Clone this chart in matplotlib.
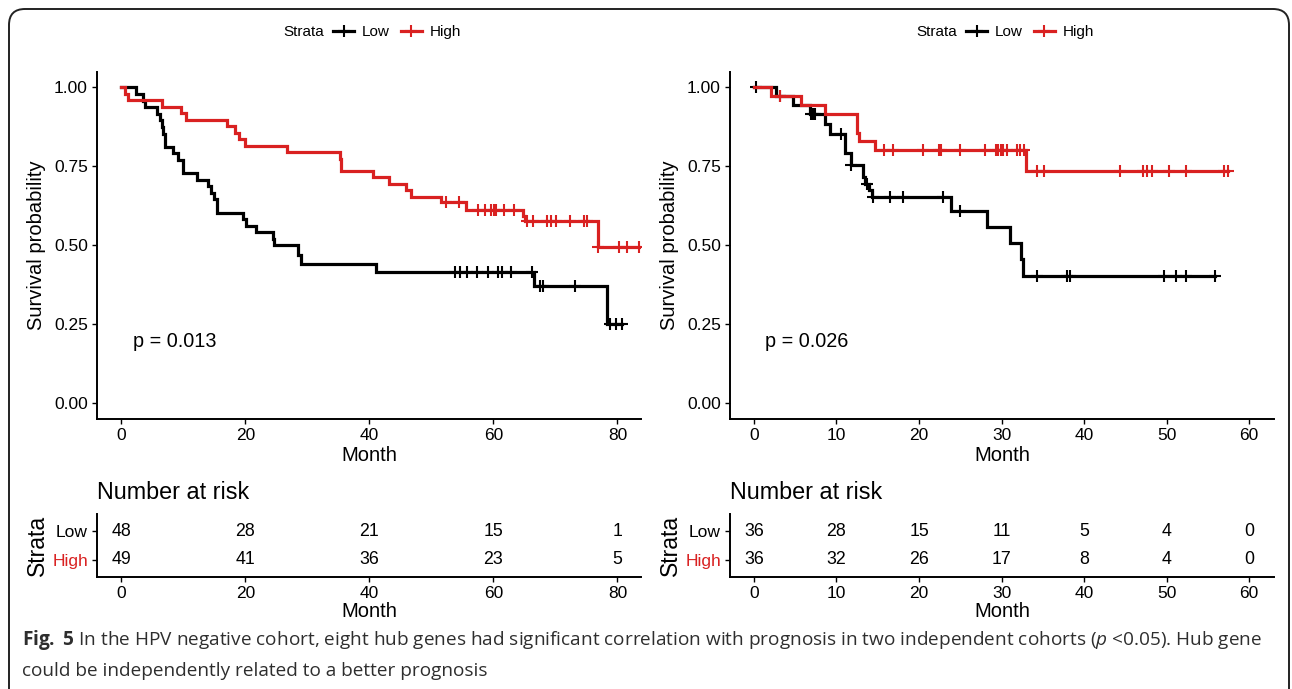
import numpy as np
import matplotlib.pyplot as plt
from matplotlib.lines import Line2D
from matplotlib.patches import FancyBboxPatch

plt.rcParams['font.family'] = ['Liberation Sans', 'DejaVu Sans']
plt.rcParams['mathtext.fontset'] = 'custom'
plt.rcParams['mathtext.rm'] = 'Open Sans'
plt.rcParams['mathtext.bf'] = 'Open Sans:bold'
plt.rcParams['mathtext.it'] = 'Open Sans:italic'

RED = '#D92121'

# ---- cohort 1 (left) ----
low1_t = [0, 2.4, 3.5, 3.8, 5.7, 6.2, 6.5, 6.8, 7.0, 8.3, 9.1, 9.9, 12.3, 14.0, 14.4,
          14.9, 15.4, 19.7, 20.2, 21.7, 24.4, 24.7, 28.5, 29.0, 41.1, 66.5, 78.3]
low1_s = [1.0, 0.979, 0.958, 0.9375, 0.917, 0.896, 0.875, 0.854, 0.8125, 0.792, 0.771,
          0.729, 0.708, 0.688, 0.667, 0.646, 0.604, 0.583, 0.562, 0.541, 0.52, 0.50,
          0.47, 0.44, 0.416, 0.37, 0.25]
low1_cens = [53.8, 54.6, 55.8, 57.3, 59.2, 60.8, 61.4, 62.8, 66.3, 67.5, 68.0, 73.2,
             78.8, 79.8, 80.7]

high1_t = [0, 0.6, 1.1, 6.5, 9.7, 10.5, 17.0, 18.3, 19.0, 20.0, 26.7, 35.2, 35.4, 40.6,
           43.2, 45.9, 46.8, 51.6, 55.6, 64.8, 65.1, 76.8]
high1_s = [1.0, 0.98, 0.959, 0.939, 0.918, 0.898, 0.878, 0.857, 0.837, 0.816, 0.796,
           0.775, 0.735, 0.716, 0.695, 0.676, 0.654, 0.636, 0.612, 0.594, 0.578, 0.495]
high1_cens = [52.4, 54.4, 57.6, 58.7, 59.6, 60.1, 60.5, 61.7, 63.3, 65.4, 66.4, 68.6,
              69.3, 70.1, 72.3, 74.6, 75.1, 76.9, 80.2, 81.5, 83.4]

risk1_times = [0, 20, 40, 60, 80]
risk1_low = [48, 28, 21, 15, 1]
risk1_high = [49, 41, 36, 23, 5]
pval1 = 'p = 0.013'

# ---- cohort 2 (right) ----
low2_t = [0, 2.7, 4.7, 6.8, 8.6, 9.2, 11.0, 11.7, 13.2, 13.4, 13.9, 14.3, 23.9, 28.2,
          31.0, 32.4, 32.6]
low2_s = [1.0, 0.972, 0.944, 0.915, 0.884, 0.854, 0.794, 0.755, 0.717, 0.694, 0.676,
          0.654, 0.608, 0.559, 0.506, 0.456, 0.403]
low2_cens = [0.3, 3.2, 6.9, 7.2, 7.4, 10.6, 11.8, 13.7, 14.4, 16.5, 18.1, 22.9, 25.0,
             34.3, 37.9, 38.3, 49.7, 51.1, 52.4, 55.8]

high2_t = [0, 2.1, 5.7, 8.6, 12.5, 12.7, 14.7, 32.9]
high2_s = [1.0, 0.973, 0.944, 0.915, 0.857, 0.829, 0.802, 0.736]
high2_cens = [3.2, 15.7, 16.9, 20.5, 22.4, 22.7, 25.0, 28.0, 29.3, 29.6, 29.9, 30.2,
              30.7, 31.9, 32.2, 32.7, 34.3, 35.1, 44.4, 47.1, 47.6, 48.2, 50.3, 52.3,
              57.0, 57.4]

risk2_times = [0, 10, 20, 30, 40, 50, 60]
risk2_low = [36, 28, 15, 11, 5, 4, 0]
risk2_high = [36, 32, 26, 17, 8, 4, 0]
pval2 = 'p = 0.026'

W, H = 1292, 689
fig = plt.figure(figsize=(W / 100, H / 100), dpi=100)

# rounded frame around the figure panel
frame = FancyBboxPatch((0.09, -0.5), 12.80, 7.30, boxstyle='round,pad=0,rounding_size=0.16',
                       transform=fig.dpi_scale_trans, fill=False, lw=1.4, ec='#222222')
fig.patches.append(frame)


def px_axes(x0, x1, ytop, ybot):
    return fig.add_axes([x0 / W, 1 - ybot / H, (x1 - x0) / W, (ybot - ytop) / H])


def style(ax):
    for s in ['top', 'right']:
        ax.spines[s].set_visible(False)
    for s in ['left', 'bottom']:
        ax.spines[s].set_linewidth(1.4)
    ax.tick_params(direction='out', length=3.5, width=1.0, labelsize=12.5, pad=3)


def km_curve(ax, t, s, cens, color):
    t = np.asarray(t)
    s = np.asarray(s)
    cens = np.asarray(cens)
    end = max(t[-1], cens.max())
    xs = np.append(t, end)
    ys = np.append(s, s[-1])
    ax.step(xs, ys, where='post', color=color, lw=2.3, solid_joinstyle='miter')
    cy = s[np.searchsorted(t, cens, side='right') - 1]
    ax.plot(cens, cy, ls='none', marker='+', ms=8, mew=1.5, color=color)


def km_panel(x0, x1, xlim, xticks, low, high, pval, pval_x):
    ax = px_axes(x0, x1, 71.7, 419)
    style(ax)
    km_curve(ax, *low, 'black')
    km_curve(ax, *high, RED)
    ax.set_xlim(*xlim)
    ax.set_ylim(-0.05, 1.05)
    ax.set_xticks(xticks)
    ax.set_yticks([0, 0.25, 0.5, 0.75, 1.0])
    ax.set_yticklabels(['0.00', '0.25', '0.50', '0.75', '1.00'])
    ax.set_xlabel('Month', fontsize=14.5)
    ax.set_ylabel('Survival probability', fontsize=14.5)
    ax.xaxis.set_label_coords(0.5, -0.104)
    ax.xaxis.label.set_va('center')
    ax.yaxis.set_label_coords(-0.112, 0.5)
    ax.yaxis.label.set_va('center')
    ax.text(pval_x, 0.197, pval, fontsize=14.3, ha='left', va='center')

    # legend strip above the panel
    ax.text(0.418, 1.114, 'Strata', transform=ax.transAxes, ha='right', va='center',
            fontsize=11)
    handles = [Line2D([], [], color='black', lw=2.3, marker='+', ms=8, mew=1.5),
               Line2D([], [], color=RED, lw=2.3, marker='+', ms=8, mew=1.5)]
    ax.legend(handles, ['Low', 'High'], loc='center left', bbox_to_anchor=(0.434, 1.114),
              ncol=2, frameon=False, fontsize=11, handlelength=1.4, handletextpad=0.5,
              columnspacing=0.7, borderpad=0, borderaxespad=0)
    return ax


def risk_panel(x0, x1, xlim, times, n_low, n_high):
    ax = px_axes(x0, x1, 513.6, 577.4)
    style(ax)
    ax.set_xlim(*xlim)
    ax.set_ylim(0.4, 2.6)
    ax.set_xticks(times)
    ax.set_yticks([1, 2])
    ax.set_yticklabels(['High', 'Low'])
    ax.get_yticklabels()[0].set_color(RED)
    for t, a, b in zip(times, n_low, n_high):
        ax.text(t, 2, str(a), ha='center', va='center', fontsize=12.8)
        ax.text(t, 1, str(b), ha='center', va='center', fontsize=12.8)
    ax.set_xlabel('Month', fontsize=14.5)
    ax.xaxis.set_label_coords(0.5, -0.542)
    ax.xaxis.label.set_va('center')
    ax.set_ylabel('Strata', fontsize=16.5)
    ax.yaxis.set_label_coords(-0.11, 0.5)
    ax.yaxis.label.set_va('center')
    ax.text(0, 1.323, 'Number at risk', transform=ax.transAxes, ha='left', va='center',
            fontsize=16.8)
    return ax


xlim1 = (-3.9, 83.8)
xlim2 = (-2.9, 63.0)

km_panel(97, 641, xlim1, risk1_times, (low1_t, low1_s, low1_cens),
         (high1_t, high1_s, high1_cens), pval1, 1.9)
km_panel(730, 1274, xlim2, risk2_times, (low2_t, low2_s, low2_cens),
         (high2_t, high2_s, high2_cens), pval2, 1.3)
risk_panel(97, 641, xlim1, risk1_times, risk1_low, risk1_high)
risk_panel(730, 1274, xlim2, risk2_times, risk2_low, risk2_high)

# figure caption
cap1 = (r'$\bf{Fig.}$ $\bf{5}$ In the HPV negative cohort, eight hub genes had significant '
        r'correlation with prognosis in two independent cohorts ($\it{p}$ <0.05). Hub gene')
cap2 = 'could be independently related to a better prognosis'
fig.text(22 / W, 1 - 640 / H, cap1, family='Open Sans', fontsize=13.7, color='#2e2e2e',
         va='center', ha='left')
fig.text(22 / W, 1 - 671 / H, cap2, family='Open Sans', fontsize=13.7, color='#2e2e2e',
         va='center', ha='left')

fig.savefig('out.png', dpi=100)
